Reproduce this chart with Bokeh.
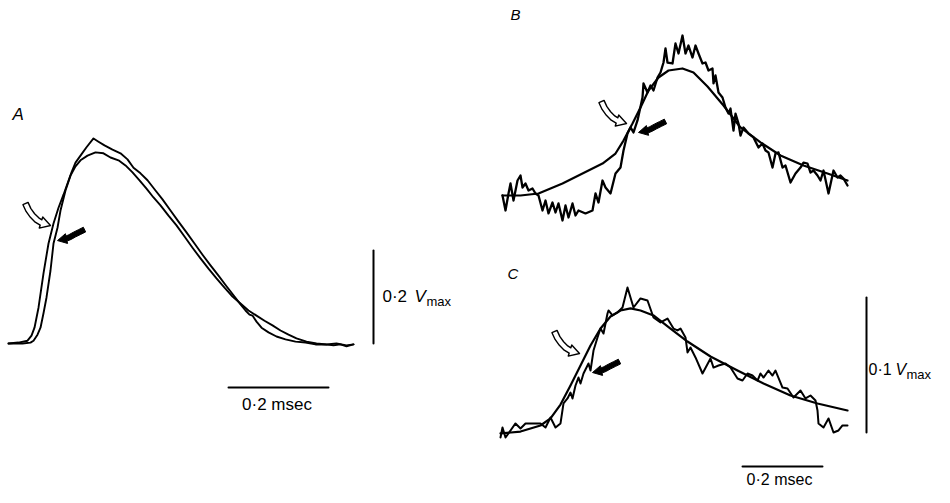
import numpy as np
from bokeh.plotting import figure
from bokeh.models import Range1d
from bokeh.core.properties import value
from bokeh.embed import file_html
from bokeh.resources import INLINE

W, H = 934, 487
FONT = "Liberation Sans"

# ---------------- data (time in msec, amplitude in units of V_max) ----------------
# Panel A: two superimposed records
A1_t = [0.0, 0.020, 0.038, 0.046, 0.052, 0.060, 0.070, 0.080, 0.090, 0.100,
        0.110, 0.118, 0.126, 0.134, 0.144, 0.156, 0.170, 0.180, 0.192, 0.208,
        0.224, 0.238, 0.250, 0.264, 0.278, 0.294, 0.308, 0.324, 0.340, 0.356,
        0.372, 0.388, 0.404, 0.420, 0.436, 0.452, 0.464, 0.474, 0.482, 0.488,
        0.496, 0.506, 0.520, 0.536, 0.554, 0.574, 0.594, 0.614, 0.634, 0.650,
        0.664, 0.676, 0.690]
A1_v = [0.0, 0.002, 0.006, 0.017, 0.034, 0.077, 0.151, 0.215, 0.258, 0.292,
        0.320, 0.344, 0.368, 0.389, 0.404, 0.422, 0.441, 0.434, 0.426, 0.417,
        0.409, 0.396, 0.378, 0.366, 0.351, 0.329, 0.310, 0.286, 0.262, 0.239,
        0.215, 0.191, 0.168, 0.146, 0.123, 0.101, 0.084, 0.071, 0.062, 0.060,
        0.047, 0.034, 0.024, 0.015, 0.009, 0.004, 0.002, -0.002, -0.002, -0.004,
        -0.002, -0.006, -0.002]
A2_t = [0.0, 0.028, 0.044, 0.050, 0.058, 0.064, 0.070, 0.076, 0.084, 0.090,
        0.098, 0.104, 0.114, 0.124, 0.134, 0.144, 0.158, 0.174, 0.190, 0.204,
        0.220, 0.234, 0.248, 0.262, 0.276, 0.290, 0.304, 0.320, 0.336, 0.352,
        0.368, 0.384, 0.400, 0.416, 0.432, 0.448, 0.464, 0.480, 0.496, 0.512,
        0.528, 0.544, 0.560, 0.576, 0.596, 0.616, 0.636, 0.656, 0.676, 0.690]
A2_v = [0.0, 0.0, 0.002, 0.006, 0.019, 0.034, 0.065, 0.099, 0.157, 0.215,
        0.249, 0.286, 0.329, 0.361, 0.381, 0.394, 0.404, 0.411, 0.409, 0.400,
        0.394, 0.383, 0.368, 0.351, 0.333, 0.314, 0.297, 0.275, 0.254, 0.230,
        0.206, 0.183, 0.161, 0.140, 0.120, 0.101, 0.086, 0.071, 0.060, 0.049,
        0.039, 0.028, 0.019, 0.011, 0.004, 0.000, -0.002, 0.000, -0.004, -0.002]

# Panel B: fitted curve and noisy record
B_fit_t = [0, 0.045, 0.09, 0.15, 0.2, 0.25, 0.2825, 0.3025, 0.325, 0.345, 0.365,
           0.39, 0.415, 0.45, 0.4775, 0.5125, 0.5525, 0.595, 0.645, 0.695,
           0.7525, 0.8125, 0.8625]
B_fit_v = [0, 0, 0.0015, 0.0089, 0.0163, 0.0237, 0.0311, 0.0407, 0.0533, 0.0652,
           0.0778, 0.0874, 0.0926, 0.0941, 0.0911, 0.0807, 0.0667, 0.0504, 0.0393,
           0.0296, 0.0222, 0.0163, 0.0111]
B_rec_t = [0, 0.0075, 0.015, 0.02, 0.0275, 0.0375, 0.045, 0.05, 0.0575, 0.065,
           0.075, 0.0825, 0.09, 0.1, 0.1075, 0.115, 0.125, 0.1325, 0.14, 0.15,
           0.1575, 0.165, 0.175, 0.1825, 0.19, 0.2075, 0.225, 0.2325, 0.24, 0.25,
           0.2575, 0.27, 0.2825, 0.295, 0.3025, 0.3125, 0.32, 0.3275, 0.3375, 0.35,
           0.3525, 0.3625, 0.37, 0.3775, 0.3875, 0.395, 0.4025, 0.4075, 0.4125, 0.425,
           0.4325, 0.44, 0.45, 0.4575, 0.465, 0.475, 0.4825, 0.49, 0.5, 0.5075,
           0.515, 0.525, 0.5275, 0.5325, 0.54, 0.55, 0.5575, 0.565, 0.57, 0.5775,
           0.5825, 0.59, 0.595, 0.6025, 0.615, 0.6275, 0.64, 0.65, 0.6575, 0.665,
           0.675, 0.6825, 0.69, 0.7, 0.7075, 0.72, 0.7325, 0.745, 0.7525, 0.7625,
           0.77, 0.7775, 0.7875, 0.795, 0.8025, 0.815, 0.8275, 0.8375, 0.845, 0.8525,
           0.8625]
B_rec_v = [0, -0.0111, 0.0015, 0.0089, -0.0037, 0.0111, 0.0148, 0.0059, 0.0089, 0.0037,
           0.0052, 0.0015, 0, -0.0111, -0.0037, -0.0133, -0.0052, -0.0126, -0.0059, -0.0185,
           -0.0074, -0.0163, -0.0059, -0.0148, -0.0111, -0.0133, -0.0111, 0.0015, -0.0052, 0.0111,
           0.0059, 0.0015, 0.0163, 0.0207, 0.0333, 0.0459, 0.0504, 0.0467, 0.0556, 0.0726,
           0.0830, 0.0763, 0.0815, 0.0778, 0.0874, 0.0911, 0.0985, 0.1089, 0.0985, 0.0978,
           0.1126, 0.1052, 0.1185, 0.1052, 0.1111, 0.1022, 0.1111, 0.1052, 0.0978, 0.0985,
           0.0926, 0.0941, 0.0830, 0.0889, 0.0763, 0.0726, 0.0652, 0.0607, 0.0644, 0.0481,
           0.0607, 0.0533, 0.0444, 0.0504, 0.0459, 0.0430, 0.0356, 0.0385, 0.0333, 0.0319,
           0.0207, 0.0311, 0.0319, 0.0207, 0.0222, 0.0096, 0.0163, 0.0207, 0.0244, 0.0237,
           0.0170, 0.0185, 0.0148, 0.0111, 0.0185, 0.0015, 0.0185, 0.0133, 0.0148, 0.0126,
           0.0074]

# Panel C: fitted curve and noisy record
C_fit_t = [0, 0.05, 0.1, 0.125, 0.15, 0.175, 0.2, 0.225, 0.25, 0.275, 0.3, 0.325,
           0.35, 0.3825, 0.425, 0.4675, 0.525, 0.5925, 0.6575, 0.725, 0.7925, 0.8675]
C_fit_v = [-0.0007, 0.0007, 0.0052, 0.0104, 0.0207, 0.0348, 0.0496, 0.0644, 0.0770,
           0.0859, 0.0904, 0.0919, 0.0904, 0.0867, 0.0770, 0.0674, 0.0563, 0.0459,
           0.0363, 0.0274, 0.0215, 0.0163]
C_rec_t = [0, 0.005, 0.0125, 0.025, 0.0375, 0.05, 0.0625, 0.1, 0.1125, 0.125,
           0.1375, 0.15, 0.1575, 0.1675, 0.175, 0.18, 0.1875, 0.195, 0.2, 0.2075,
           0.22, 0.225, 0.2325, 0.2425, 0.25, 0.2575, 0.2675, 0.27, 0.28, 0.2925,
           0.305, 0.3175, 0.3325, 0.35, 0.3675, 0.3825, 0.4, 0.4175, 0.4325, 0.4425,
           0.45, 0.4625, 0.4675, 0.475, 0.4875, 0.505, 0.525, 0.5325, 0.545, 0.5625,
           0.575, 0.5925, 0.605, 0.6175, 0.63, 0.6425, 0.65, 0.6575, 0.67, 0.68,
           0.6875, 0.705, 0.7175, 0.7325, 0.75, 0.7625, 0.775, 0.7875, 0.7925, 0.795,
           0.8075, 0.82, 0.8325, 0.845, 0.855, 0.8675]
C_rec_v = [-0.0037, 0.0037, -0.0037, 0.0015, 0.0067, 0.0030, 0.0067, 0.0067, 0.0037, 0.0111,
           0.0037, 0.0067, 0.0215, 0.0252, 0.0296, 0.0252, 0.0348, 0.0407, 0.0363, 0.0437,
           0.0511, 0.0459, 0.0607, 0.0704, 0.0770, 0.0733, 0.0881, 0.0904, 0.0867, 0.0889,
           0.0926, 0.1074, 0.0926, 0.0993, 0.0978, 0.0852, 0.0815, 0.0844, 0.0770, 0.0756,
           0.0770, 0.0704, 0.0593, 0.0630, 0.0556, 0.0437, 0.0548, 0.0481, 0.0496, 0.0511,
           0.0481, 0.0400, 0.0385, 0.0437, 0.0422, 0.0385, 0.0437, 0.0407, 0.0459, 0.0422,
           0.0459, 0.0333, 0.0326, 0.0259, 0.0311, 0.0252, 0.0274, 0.0237, 0.0163, 0.0067,
           0.0037, 0.0104, 0, 0.0015, 0.0052, 0.0052]

# scale bars (msec, V_max)
SCALE_T = 0.2
SCALE_V_A = 0.2
SCALE_V_C = 0.1
LABEL_T = "0·2 msec"
LABEL_VA = "0·2"
LABEL_VC = "0·1"

# ---------------- layout / style ----------------
PANELS = {
    "A": dict(ox=8, oy=343, sx=500.0, sy=465.0),
    "B": dict(ox=502, oy=195, sx=400.0, sy=1350.0),
    "C": dict(ox=500, oy=432, sx=400.0, sy=1350.0),
}

p = figure(width=W, height=H, x_range=Range1d(0, W), y_range=Range1d(H, 0),
           output_backend="svg", toolbar_location=None,
           x_axis_location=None, y_axis_location=None, min_border=0)
p.outline_line_color = None
p.background_fill_color = "white"
p.border_fill_color = "white"
p.grid.grid_line_color = None

xr, yr = {}, {}
for name, g in PANELS.items():
    xr[name] = Range1d(-g["ox"] / g["sx"], (W - g["ox"]) / g["sx"])
    yr[name] = Range1d(-(H - g["oy"]) / g["sy"], g["oy"] / g["sy"])
p.extra_x_ranges = xr
p.extra_y_ranges = yr


def to_px(panel, t, v):
    g = PANELS[panel]
    return g["ox"] + t * g["sx"], g["oy"] - v * g["sy"]


def line(panel, t, v, w=2.0):
    p.line(t, v, x_range_name=panel, y_range_name=panel, line_color="black",
           line_width=w, line_join="round", line_cap="round")


def text(panel, t, v, s, size, align="left", style="normal", xo=0, yo=0):
    p.text(x=[t], y=[v], text=[s], x_range_name=panel, y_range_name=panel,
           text_font=value(FONT), text_font_size=size, text_font_style=style,
           text_align=align, text_baseline="middle", text_color="black",
           x_offset=xo, y_offset=yo)


# traces
line("A", A2_t, A2_v, 1.9)
line("A", A1_t, A1_v, 1.9)
line("B", B_fit_t, B_fit_v, 2.2)
line("B", B_rec_t, B_rec_v, 2.3)
line("C", C_fit_t, C_fit_v, 2.2)
line("C", C_rec_t, C_rec_v, 2.0)

# scale bars
line("A", [0.44, 0.44 + SCALE_T], [-0.0946, -0.0946], 2.0)
line("A", [0.73, 0.73], [0.0, SCALE_V_A], 2.0)
line("C", [0.605, 0.605 + SCALE_T], [-0.0252, -0.0252], 2.0)
line("C", [0.915, 0.915], [0.0, SCALE_V_C], 2.0)

# texts (vertical position = middle of the digits)
text("A", 0.008, 0.4925, "A", "17px", style="italic")
text("B", 0.02, 0.1341, "B", "15px", style="italic")
text("C", 0.0175, 0.1178, "C", "15px", style="italic")
text("A", 0.537, -0.1312, LABEL_T, "17px", align="center")
text("C", 0.6975, -0.0348, LABEL_T, "16px", align="center")
text("A", 0.748, 0.1011, LABEL_VA, "17px")
text("A", 0.748, 0.1011, "V", "17px", style="italic", xo=32)
text("A", 0.748, 0.1011, "max", "13px", xo=44, yo=5)
text("C", 0.92, 0.047, LABEL_VC, "16px")
text("C", 0.92, 0.047, "V", "16px", style="italic", xo=27)
text("C", 0.92, 0.047, "max", "13px", xo=38, yo=5)

# arrows (tip located on a trace at a given time, shape in screen px)
OPEN_SHAPE = [(-25, -22), (-22, -15.5), (-18, -10), (-13.5, -5.5), (-9.5, -3)]
FILL_SHAPE = [(27, -11), (22, -8.5), (17, -6), (12.5, -3.5), (9, -2)]
ARROWS = [
    ("A", A1_t, A1_v, 0.088, -2, -2, "open"),
    ("A", A2_t, A2_v, 0.092, 3, 1, "fill"),
    ("B", B_fit_t, B_fit_v, 0.325, -6, 0, "open"),
    ("B", B_rec_t, B_rec_v, 0.3275, 5, 0, "fill"),
    ("C", C_fit_t, C_fit_v, 0.2125, -6, -2, "open"),
    ("C", C_rec_t, C_rec_v, 0.225, 2, 2, "fill"),
]


def arrow_polygon(tip, center, shaft_hw, head_hw):
    tip = np.array(tip, float)
    c = np.array(center, float) + tip
    tang = np.gradient(c, axis=0)
    tang[-1] = tip - c[-1]
    tang = tang / np.linalg.norm(tang, axis=1)[:, None]
    n = np.stack([-tang[:, 1], tang[:, 0]], axis=1)
    left = c + n * shaft_hw
    right = c - n * shaft_hw
    bl = c[-1] + n[-1] * head_hw
    br = c[-1] - n[-1] * head_hw
    pts = list(left) + [bl, tip, br] + list(right[::-1])
    return [q[0] for q in pts], [q[1] for q in pts]


for panel, ts, vs, ta, dx, dy, kind in ARROWS:
    va = float(np.interp(ta, ts, vs))
    px, py = to_px(panel, ta, va)
    tip = (px + dx, py + dy)
    if kind == "open":
        xs, ys = arrow_polygon(tip, OPEN_SHAPE, 2.8, 5.8)
        p.patch(xs, ys, fill_color="white", line_color="black", line_width=1.4,
                line_join="round")
    else:
        xs, ys = arrow_polygon(tip, FILL_SHAPE, 2.6, 5.0)
        p.patch(xs, ys, fill_color="black", line_color="black", line_width=1.0,
                line_join="round")

open("out.html", "w").write(file_html(p, INLINE))
